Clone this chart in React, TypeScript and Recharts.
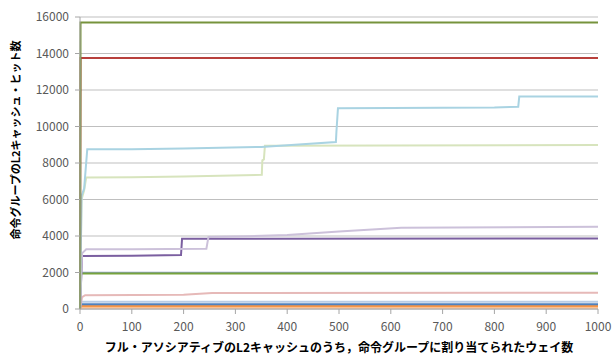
import React from "react";
import { LineChart, Line, XAxis, YAxis, CartesianGrid, Label } from "recharts";

// [ways, hits] pairs
const green15700 = [[0, 0], [1, 15700], [1000, 15700]];
const red13750 = [[0, 0], [1, 13750], [1000, 13750]];
const lightBlue = [
  [0, 0], [3, 6200], [8, 6600], [14, 8750], [100, 8760], [200, 8800], [350, 8880],
  [494, 9150], [495, 9700], [498, 11000], [600, 11020], [800, 11040], [846, 11080],
  [848, 11640], [1000, 11650],
];
const lightGreen = [
  [0, 0], [3, 6000], [8, 6500], [12, 7200], [100, 7220], [200, 7260], [351, 7350],
  [352, 8150], [355, 8200], [357, 8950], [1000, 8980],
];
const lightPurple = [
  [0, 0], [4, 3050], [12, 3270], [100, 3280], [244, 3300], [248, 3950], [328, 3990],
  [400, 4060], [500, 4250], [620, 4450], [1000, 4510],
];
const darkPurple = [[0, 0], [4, 2900], [100, 2920], [195, 2960], [197, 3850], [1000, 3860]];
const grayBlue1990 = [[0, 0], [1, 1990], [1000, 1990]];
const green1950 = [[0, 0], [1, 1950], [1000, 1950]];
const pink = [[0, 0], [4, 650], [10, 760], [200, 780], [255, 880], [1000, 885]];
const paleBlue400 = [[0, 0], [1, 400], [1000, 400]];
const blue260 = [[0, 0], [1, 260], [1000, 260]];
const orange160 = [[0, 0], [1, 160], [1000, 160]];
const peach70 = [[0, 0], [1, 70], [1000, 70]];

const xTicks = [0, 100, 200, 300, 400, 500, 600, 700, 800, 900, 1000];
const yTicks = [0, 2000, 4000, 6000, 8000, 10000, 12000, 14000, 16000];

const series = [
  { name: "s1", pts: peach70, color: "#FAC090" },
  { name: "s2", pts: orange160, color: "#F79646" },
  { name: "s3", pts: blue260, color: "#4F81BD" },
  { name: "s4", pts: paleBlue400, color: "#B9CDE5" },
  { name: "s5", pts: pink, color: "#E6B9B8" },
  { name: "s6", pts: grayBlue1990, color: "#8EA0C8" },
  { name: "s7", pts: green1950, color: "#77A33C" },
  { name: "s8", pts: darkPurple, color: "#7B5FA0" },
  { name: "s9", pts: lightPurple, color: "#CCC1DA" },
  { name: "s10", pts: lightGreen, color: "#D7E4BD" },
  { name: "s11", pts: lightBlue, color: "#A9D3E2" },
  { name: "s12", pts: red13750, color: "#B8403C" },
  { name: "s13", pts: green15700, color: "#77933C" },
];

const font = "'Noto Sans CJK JP', 'Noto Sans', sans-serif";

export default function App() {
  return (
    <div style={{ position: "absolute", left: 0, top: 0, background: "#fff" }}>
      <LineChart width={614} height={360} margin={{ top: 17, right: 16, left: 0, bottom: 0 }}>
        <CartesianGrid horizontal vertical={false} stroke="#BFBFBF" />
        <XAxis
          dataKey="x" type="number" domain={[0, 1000]} ticks={xTicks} height={51}
          tick={{ fontSize: 12, fill: "#595959", fontFamily: font }}
          tickSize={5} tickMargin={8} stroke="#A6A6A6" interval={0}
        >
          <Label
            content={() => (
              <text x={339} y={352} textAnchor="middle" fontSize={12} fontWeight="bold"
                fontFamily={font} fill="#000">
                フル・アソシアティブのL2キャッシュのうち，命令グループに割り当てられたウェイ数
              </text>
            )}
          />
        </XAxis>
        <YAxis
          type="number" domain={[0, 16000]} ticks={yTicks} width={80}
          tick={{ fontSize: 12, fill: "#595959", fontFamily: font }}
          tickSize={5} tickMargin={6} stroke="#A6A6A6" interval={0}
        >
          <Label
            content={() => (
              <text x={20} y={140} textAnchor="middle" fontSize={11} fontWeight="bold"
                fontFamily={font} fill="#000" transform="rotate(-90 20 140)">
                命令グループのL2キャッシュ・ヒット数
              </text>
            )}
          />
        </YAxis>
        {series.map(s => (
          <Line
            key={s.name}
            data={s.pts.map(([x, y]) => ({ x, y }))}
            dataKey="y" type="linear" stroke={s.color} strokeWidth={2}
            dot={false} isAnimationActive={false}
          />
        ))}
      </LineChart>
    </div>
  );
}
